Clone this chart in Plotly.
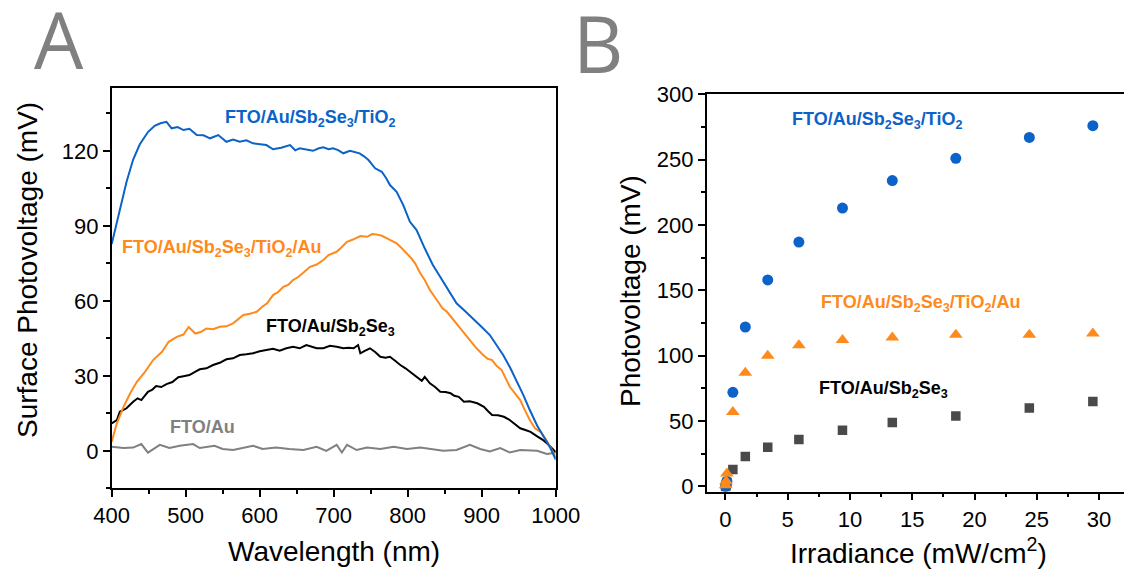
import plotly.graph_objects as go

# ---------------- Panel A data (wavelength in nm, SPV in mV) ----------------
wl_tio2 = [400, 411, 420, 429, 438, 449, 458, 466, 474, 481, 489, 497, 505, 515, 524, 533, 544, 555, 564,
           573, 582, 591, 600, 609, 618, 629, 641, 648, 654, 663, 672, 680, 686, 693, 699, 706, 713, 722,
           729, 735, 741, 747, 756, 765, 771, 776, 785, 794, 803, 812, 823, 834, 843, 857, 866, 877, 888,
           900, 911, 920, 929, 938, 947, 956, 965, 975, 985, 993, 1000]
spv_tio2 = [82.7, 96.3, 107.5, 116.5, 122.6, 127.5, 130, 131, 131.6, 129, 129.5, 128.3, 128.8, 126.3, 126.2,
            125, 126.3, 123.6, 124.5, 123.6, 124.2, 123, 122.8, 122.3, 120.6, 121.2, 122.3, 120.2, 121, 120.5,
            120, 121, 121.4, 120.6, 121, 120.3, 119, 120, 119.6, 119, 117.8, 116.3, 113, 111.6, 109, 106.3,
            103.6, 98.3, 91.6, 88.3, 81, 74.3, 70, 63.5, 59, 56, 53, 49.5, 46.3, 42.5, 38.3, 33.5, 28.3,
            22.5, 16.3, 10, 5, 1, -3.5]

wl_tio2au = [400, 407, 416, 425, 434, 445, 456, 468, 477, 488, 497, 504, 513, 520, 528, 537, 546, 555, 564,
             571, 578, 587, 596, 603, 610, 618, 625, 632, 639, 645, 652, 660, 668, 677, 686, 693, 704, 711,
             718, 726, 736, 745, 752, 758, 765, 772, 779, 785, 792, 799, 805, 810, 817, 823, 830, 841, 847,
             853, 860, 866, 875, 884, 893, 902, 908, 914, 920, 927, 933, 938, 945, 952, 958, 965, 972, 980,
             988, 995, 1000]
spv_tio2au = [3.6, 11, 17.6, 23, 27.6, 31.6, 36.3, 39.6, 43.6, 45.6, 46.5, 49.5, 46.9, 47.5, 48.9, 48.6, 49.6,
              49.8, 51, 52.5, 54.3, 54.8, 55.6, 57.5, 59, 62.3, 63.5, 65.6, 66.5, 68.3, 69.5, 71.5, 73.6, 74.5,
              76.3, 78.3, 79.6, 81.5, 83.6, 84.5, 85.9, 85.6, 86.7, 86.5, 86, 85, 84, 83, 81, 79, 77, 75, 71,
              68.3, 64.3, 59.6, 57, 55.6, 53, 51, 47.5, 44.3, 41, 38.3, 36.8, 36.3, 34, 32.3, 28.5, 25.6, 23,
              20.3, 16.5, 12.3, 9, 7.5, 4, 0, -2.5]

wl_sb = [400, 407, 411, 420, 429, 435, 440, 449, 455, 460, 467, 474, 482, 490, 497, 505, 512, 519, 528, 537,
         546, 555, 564, 573, 582, 591, 600, 609, 618, 627, 636, 645, 654, 663, 670, 677, 686, 695, 704, 713,
         720, 727, 733, 736, 742, 749, 756, 763, 770, 776, 783, 790, 797, 803, 809, 815, 819, 823, 830, 837,
         844, 851, 858, 863, 869, 876, 884, 894, 903, 908, 914, 922, 930, 937, 943, 952, 959, 966, 974, 982,
         990, 1000]
spv_sb = [11, 12.3, 15.6, 17, 19.6, 21, 20.3, 23.6, 24.5, 25.9, 25.5, 26.7, 27.5, 29.4, 29.8, 30.3, 31.5, 32.6,
          33, 34.3, 35.2, 36.6, 37, 38.3, 38.6, 39, 39.8, 40.3, 40.8, 40, 41, 41.6, 41, 42.3, 41.5, 41, 41, 42,
          41.6, 41, 41.2, 41, 42.3, 39, 40, 41, 39.5, 37.6, 37.2, 37.6, 36, 34.3, 33, 31.6, 30.5, 29, 28, 29.6,
          27, 25.5, 23.6, 23.5, 23, 22, 21.6, 19.6, 19.8, 19, 17.6, 16, 14.3, 14.2, 13.6, 12.5, 11, 9, 8.3, 7.6,
          6, 4.5, 2.5, -0.5]

wl_au = [400, 416, 429, 440, 449, 465, 478, 492, 510, 519, 539, 550, 564, 582, 591, 604, 622, 640, 659, 677,
         690, 704, 711, 718, 731, 745, 763, 781, 799, 817, 835, 848, 866, 884, 898, 911, 925, 938, 952, 966,
         975, 988, 1000]
spv_au = [1.6, 1.1, 1.3, 2.7, -0.7, 2.4, 1.1, 2, 2.7, 1.1, 2, 0.7, 0.3, 1.3, 2, 0.7, 1.3, 0.7, 0.3, 1.6, 0,
          2.4, -0.7, 2.4, 0.3, 1.3, 0.7, 1.6, 0.7, 1.3, 0.7, 0, 0.3, 2.4, 0.7, -0.3, 1.1, -0.7, 0.3, 0, 0,
          -1.3, -0.8]

# ---------------- Panel B data (irradiance mW/cm2, photovoltage mV) ----------------
irradiance = [0.02, 0.06, 0.12, 0.6, 1.6, 3.4, 5.9, 9.4, 13.4, 18.5, 24.4, 29.5]
pv_tio2 = [0, 2, 4, 72, 122, 158, 187, 213, 234, 251, 267, 276]
pv_tio2au = [1, 4, 10, 57, 87, 100, 108, 112, 114, 116, 116, 117]
pv_sb = [0, 1, 3, 13, 23, 30, 36, 43, 49, 54, 60, 65]

lab_tio2 = "<b>FTO/Au/Sb<sub>2</sub>Se<sub>3</sub>/TiO<sub>2</sub></b>"
lab_tio2au = "<b>FTO/Au/Sb<sub>2</sub>Se<sub>3</sub>/TiO<sub>2</sub>/Au</b>"
lab_sb = "<b>FTO/Au/Sb<sub>2</sub>Se<sub>3</sub></b>"
lab_au = "<b>FTO/Au</b>"

BLUE = "#0B62C8"
ORANGE = "#FF8A1C"
BLACK = "#000000"
GRAY = "#808080"
DARK = "#4A4A4A"
FONT = "Liberation Sans, Arial, sans-serif"

W, H = 1124, 570

fig = go.Figure()
# Panel A lines
fig.add_trace(go.Scatter(x=wl_au, y=spv_au, mode="lines", line=dict(color=GRAY, width=2),
                         xaxis="x", yaxis="y", showlegend=False))
fig.add_trace(go.Scatter(x=wl_sb, y=spv_sb, mode="lines", line=dict(color=BLACK, width=2),
                         xaxis="x", yaxis="y", showlegend=False))
fig.add_trace(go.Scatter(x=wl_tio2au, y=spv_tio2au, mode="lines", line=dict(color=ORANGE, width=2),
                         xaxis="x", yaxis="y", showlegend=False))
fig.add_trace(go.Scatter(x=wl_tio2, y=spv_tio2, mode="lines", line=dict(color=BLUE, width=2),
                         xaxis="x", yaxis="y", showlegend=False))
# Panel B markers
fig.add_trace(go.Scatter(x=irradiance, y=pv_sb, mode="markers",
                         marker=dict(symbol="square", size=9.5, color=DARK),
                         xaxis="x2", yaxis="y2", showlegend=False))
fig.add_trace(go.Scatter(x=irradiance, y=pv_tio2, mode="markers",
                         marker=dict(symbol="circle", size=11, color=BLUE),
                         xaxis="x2", yaxis="y2", showlegend=False))
fig.add_trace(go.Scatter(x=irradiance, y=pv_tio2au, mode="markers",
                         marker=dict(symbol="triangle-up", size=12, color=ORANGE),
                         xaxis="x2", yaxis="y2", showlegend=False))

axis_common = dict(showgrid=False, zeroline=False, showline=True, linecolor="black", linewidth=1.5,
                   ticks="outside", ticklen=7, tickwidth=1.5, tickcolor="black", automargin=False,
                   tickfont=dict(family=FONT, size=22, color="black"))

def px_x(p):
    return p / W

def px_y(p):
    return 1 - p / H

fig.update_layout(
    width=W, height=H, autosize=False, showlegend=False,
    margin=dict(l=0, r=0, t=0, b=0, pad=0, autoexpand=False),
    paper_bgcolor="white", plot_bgcolor="white",
    xaxis=dict(domain=[px_x(111.7), px_x(555.7)], range=[400, 1000], tick0=400, dtick=100,
               mirror=True, anchor="y",
               minor=dict(dtick=50, ticklen=4, tickwidth=1.5, tickcolor="black", ticks="outside"),
               **axis_common),
    yaxis=dict(domain=[px_y(488.3), px_y(88.3)], range=[-15, 145], tick0=0, dtick=30,
               mirror=True, anchor="x",
               minor=dict(dtick=15, tick0=0, ticklen=4, tickwidth=1.5, tickcolor="black", ticks="outside"),
               **axis_common),
    xaxis2=dict(domain=[px_x(706.7), 1.0], range=[-1.5, 32.0], tick0=0, dtick=5,
                mirror=True, anchor="y2",
                minor=dict(dtick=2.5, tick0=0, ticklen=4, tickwidth=1.5, tickcolor="black", ticks="outside"),
                **axis_common),
    yaxis2=dict(domain=[px_y(491.7), px_y(94.3)], range=[-4, 300], tick0=0, dtick=50,
                mirror=False, anchor="x2",
                minor=dict(dtick=25, tick0=0, ticklen=4, tickwidth=1.5, tickcolor="black", ticks="outside"),
                **axis_common),
)

ann = []
lab_font = dict(family=FONT, size=18)
C = dict(showarrow=False, xanchor="center", yanchor="middle")
# Panel A series labels (data coords)
ann.append(dict(x=668, y=133, xref="x", yref="y", text=lab_tio2, font=dict(color=BLUE, **lab_font), **C))
ann.append(dict(x=548, y=81, xref="x", yref="y", text=lab_tio2au, font=dict(color=ORANGE, **lab_font), **C))
ann.append(dict(x=696, y=49.5, xref="x", yref="y", text=lab_sb, font=dict(color=BLACK, **lab_font), **C))
ann.append(dict(x=523, y=9.5, xref="x", yref="y", text=lab_au, font=dict(color=GRAY, **lab_font), **C))
# Panel B series labels
ann.append(dict(x=12.2, y=280, xref="x2", yref="y2", text=lab_tio2, font=dict(color=BLUE, **lab_font), **C))
ann.append(dict(x=15.7, y=140, xref="x2", yref="y2", text=lab_tio2au, font=dict(color=ORANGE, **lab_font), **C))
ann.append(dict(x=12.7, y=74, xref="x2", yref="y2", text=lab_sb, font=dict(color=BLACK, **lab_font), **C))

title_font = dict(family=FONT, size=28, color="black")
ann.append(dict(x=px_x(334), y=px_y(551), xref="paper", yref="paper", text="Wavelength (nm)",
                font=title_font, **C))
ann.append(dict(x=px_x(28), y=px_y(270), xref="paper", yref="paper", text="Surface Photovoltage (mV)",
                textangle=-90, font=title_font, **C))
ann.append(dict(x=px_x(918), y=px_y(551), xref="paper", yref="paper", text="Irradiance (mW/cm<sup>2</sup>)",
                font=title_font, **C))
ann.append(dict(x=px_x(630), y=px_y(291), xref="paper", yref="paper", text="Photovoltage (mV)",
                textangle=-90, font=title_font, **C))
# Panel letters
letter_font = dict(family="Open Sans, Liberation Sans, sans-serif", size=78, color="#808080")
ann.append(dict(x=px_x(59), y=px_y(39), xref="paper", yref="paper", text="A", font=letter_font, **C))
ann.append(dict(x=px_x(598), y=px_y(43), xref="paper", yref="paper", text="B", font=letter_font, **C))

fig.update_layout(annotations=ann)

fig.write_html("out.html", config={"displayModeBar": False})
